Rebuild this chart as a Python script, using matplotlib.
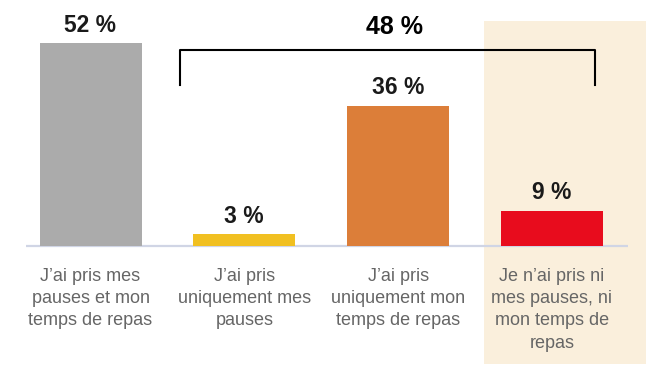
import matplotlib
matplotlib.use("Agg")
import matplotlib.pyplot as plt
from matplotlib.patches import Rectangle

categories = [
    "J\u2019ai pris mes\npauses et mon\ntemps de repas",
    "J\u2019ai pris\nuniquement mes\npauses",
    "J\u2019ai pris\nuniquement mon\ntemps de repas",
    "Je n\u2019ai pris ni\nmes pauses, ni\nmon temps de\nrepas",
]
values = [52, 3, 36, 9]
value_labels = ["52 %", "3 %", "36 %", "9 %"]
bracket_label = "48 %"
colors = ["#ABABAB", "#F1C021", "#DC7E39", "#E80C1D"]

W, H, DPI = 646, 371, 100
fig = plt.figure(figsize=(W / DPI, H / DPI), dpi=DPI)
ax = fig.add_axes([0, 0, 1, 1])

# pixel mapping helpers (layout only)
x0, dx = 90.5, 153.8
y0, sy = 246.0, 3.9
def px2x(p):
    return (p - x0) / dx
def py2y(p):
    return (y0 - p) / sy

ax.set_xlim(px2x(0), px2x(W))
ax.set_ylim(py2y(H), py2y(0))
ax.axis("off")

xs = list(range(len(values)))

# highlight background for last category
ax.add_patch(Rectangle((px2x(484), py2y(364)), px2x(646) - px2x(484),
                       py2y(21) - py2y(364), facecolor="#FAEFDC",
                       edgecolor="none", zorder=0))

# baseline
ax.plot([px2x(26), px2x(628)], [0, 0], color="#D0D5E5", lw=1.6,
        zorder=1, solid_capstyle="butt")

ax.bar(xs, values, width=102 / dx, color=colors, zorder=2)

for x, v, lab in zip(xs, values, value_labels):
    ax.annotate(lab, (x, v), xytext=(0, 13), textcoords="offset points",
                ha="center", va="center", fontsize=16.5, fontweight="bold",
                family="Liberation Sans", color="#1a1a1a", zorder=3)

for x, cat in zip(xs, categories):
    ax.text(x, py2y(268), cat, ha="center", va="top", fontsize=13,
            family="Liberation Sans", color="#666666", linespacing=1.4,
            zorder=3)

# bracket
bx1, bx2 = px2x(180), px2x(595)
by_top, by_bot = py2y(50), py2y(85)
ax.plot([bx1, bx1, bx2, bx2], [by_bot, by_top, by_top, by_bot],
        color="black", lw=1.5, zorder=3)
ax.text(px2x(394), py2y(27), bracket_label, ha="center",
        va="center", fontsize=18, fontweight="bold",
        family="Liberation Sans", color="black", zorder=3)

fig.savefig("out.png", dpi=DPI)
